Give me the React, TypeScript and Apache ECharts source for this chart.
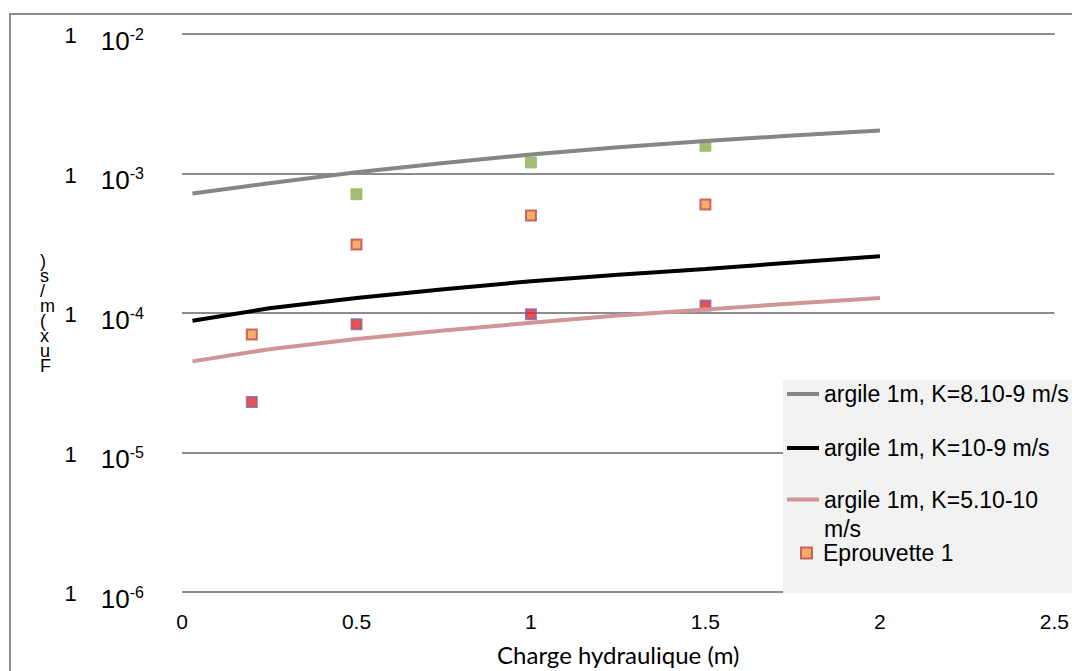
import React, { useEffect, useRef } from "react";
import * as echarts from "echarts";

const lineX = [0.03, 0.25, 0.5, 0.75, 1, 1.25, 1.5, 1.75, 2];
const argileK8 = [7.2e-4, 8.5e-4, 1.02e-3, 1.19e-3, 1.37e-3, 1.54e-3, 1.71e-3, 1.87e-3, 2.03e-3];
const argileK1 = [8.8e-5, 1.08e-4, 1.28e-4, 1.48e-4, 1.69e-4, 1.88e-4, 2.07e-4, 2.3e-4, 2.55e-4];
const argileK05 = [4.5e-5, 5.5e-5, 6.5e-5, 7.5e-5, 8.5e-5, 9.6e-5, 1.06e-4, 1.17e-4, 1.28e-4];

const eprouvette1X = [0.2, 0.5, 1, 1.5];
const eprouvette1Y = [7e-5, 3.1e-4, 5.0e-4, 6.0e-4];
const eprouvette2X = [0.5, 1, 1.5];
const eprouvette2Y = [7.1e-4, 1.2e-3, 1.58e-3];
const eprouvette3X = [0.2, 0.5, 1, 1.5];
const eprouvette3Y = [2.3e-5, 8.3e-5, 9.8e-5, 1.13e-4];

const seriesNames = [
  "argile 1m, K=8.10-9 m/s",
  "argile 1m, K=10-9 m/s",
  "argile 1m, K=5.10-10 m/s",
  "Eprouvette 1",
  "Eprouvette 2",
  "Eprouvette 3",
];

const xMin = 0;
const xMax = 2.5;
const xInterval = 0.5;
const yMin = 1e-6;
const yMax = 1e-2;
const yAxisName = [")", "s", "/", "m", "(", "x", "u", "F"];
const xAxisName = "Charge hydraulique (m)";

const ARIAL = "'Liberation Sans', Arial, sans-serif";
const CALIBRI = "Lato, 'Open Sans', sans-serif";

const zip = (xs: number[], ys: number[]) => xs.map((x, i) => [x, ys[i]]);

export default function App() {
  const ref = useRef<HTMLDivElement>(null);
  useEffect(() => {
    if (!ref.current) return;
    const chart = echarts.init(ref.current, undefined, { renderer: "svg" });
    const legendText = { fontSize: 23, fontFamily: ARIAL, color: "#000", lineHeight: 26 };
    const lineLegend = {
      left: 787,
      padding: 0,
      itemWidth: 32,
      itemHeight: 4,
      icon: "rect",
      z: 5,
      textStyle: legendText,
    };
    chart.setOption({
      animation: false,
      backgroundColor: "#fff",
      grid: { left: 182, right: 15, top: 34, bottom: 77 },
      graphic: [
        {
          type: "rect",
          z: -10,
          shape: { x: 10, y: 14, width: 1200, height: 800 },
          style: { fill: "none", stroke: "#8c8c8c", lineWidth: 2 },
        },
        {
          type: "rect",
          z: 3,
          shape: { x: 783, y: 380, width: 300, height: 213 },
          style: { fill: "#f2f2f2" },
        },
      ],
      legend: [
        { ...lineLegend, data: [seriesNames[0]], top: 381 },
        { ...lineLegend, data: [seriesNames[1]], top: 435 },
        {
          ...lineLegend,
          data: [seriesNames[2]],
          top: 456,
          formatter: () => "\nargile 1m, K=5.10-10\nm/s",
          textStyle: { ...legendText, lineHeight: 29 },
        },
        {
          data: [seriesNames[3]],
          left: 800,
          top: 540,
          padding: 0,
          itemWidth: 11,
          itemHeight: 11,
          z: 5,
          textStyle: { ...legendText, padding: [0, 0, 0, 6] },
        },
      ],
      xAxis: {
        type: "value",
        min: xMin,
        max: xMax,
        interval: xInterval,
        axisLine: { show: false },
        axisTick: { show: false },
        splitLine: { show: false },
        axisLabel: { fontSize: 21, fontFamily: ARIAL, color: "#000", margin: 19 },
        name: xAxisName,
        nameLocation: "middle",
        nameGap: 50,
        nameTextStyle: { fontSize: 24, fontFamily: CALIBRI, color: "#000" },
      },
      yAxis: {
        type: "log",
        logBase: 10,
        min: yMin,
        max: yMax,
        axisLine: { show: false },
        axisTick: { show: false },
        splitLine: { show: true, lineStyle: { color: "#8c8c8c", width: 2 } },
        axisLabel: {
          margin: 38,
          padding: [13, 0, 0, 0],
          formatter: (v: number) => {
            const e = Math.round(Math.log10(v));
            return `{one|1}{ten|10}{sup|${e}}`;
          },
          rich: {
            one: { fontSize: 22, lineHeight: 22, padding: [0, 0, 10, 0], fontFamily: ARIAL, color: "#000" },
            ten: { fontSize: 26, lineHeight: 26, padding: [0, 0, 0, 24], fontFamily: ARIAL, color: "#000" },
            sup: { fontSize: 16, lineHeight: 16, padding: [0, 0, 13, 0], fontFamily: ARIAL, color: "#000" },
          },
        },
        name: yAxisName.join("\n"),
        nameLocation: "middle",
        nameRotate: 0,
        nameGap: 142,
        nameTextStyle: {
          fontSize: 18,
          lineHeight: 15,
          fontFamily: ARIAL,
          color: "#000",
          align: "left",
          padding: [0, 0, 12, 0],
        },
      },
      series: [
        {
          name: seriesNames[0],
          type: "line",
          data: zip(lineX, argileK8),
          symbol: "none",
          lineStyle: { color: "#868686", width: 4 },
          itemStyle: { color: "#868686" },
        },
        {
          name: seriesNames[1],
          type: "line",
          data: zip(lineX, argileK1),
          symbol: "none",
          lineStyle: { color: "#000000", width: 4 },
          itemStyle: { color: "#000000" },
        },
        {
          name: seriesNames[2],
          type: "line",
          data: zip(lineX, argileK05),
          symbol: "none",
          lineStyle: { color: "#d09595", width: 4 },
          itemStyle: { color: "#d09595" },
        },
        {
          name: seriesNames[3],
          type: "scatter",
          data: zip(eprouvette1X, eprouvette1Y),
          symbol: "rect",
          symbolSize: 10,
          itemStyle: { color: "#f79646", borderColor: "#b94a48", borderWidth: 2 },
        },
        {
          name: seriesNames[4],
          type: "scatter",
          data: zip(eprouvette2X, eprouvette2Y),
          symbol: "rect",
          symbolSize: 11,
          itemStyle: { color: "#8faa52", borderColor: "#9bbb59", borderWidth: 1 },
        },
        {
          name: seriesNames[5],
          type: "scatter",
          data: zip(eprouvette3X, eprouvette3Y),
          symbol: "rect",
          symbolSize: 10,
          itemStyle: { color: "#ee2222", borderColor: "#7f64a2", borderWidth: 2 },
        },
      ],
    });
    return () => chart.dispose();
  }, []);
  return (
    <div
      ref={ref}
      style={{ position: "fixed", left: 0, top: 0, width: 1072, height: 671 }}
    />
  );
}
